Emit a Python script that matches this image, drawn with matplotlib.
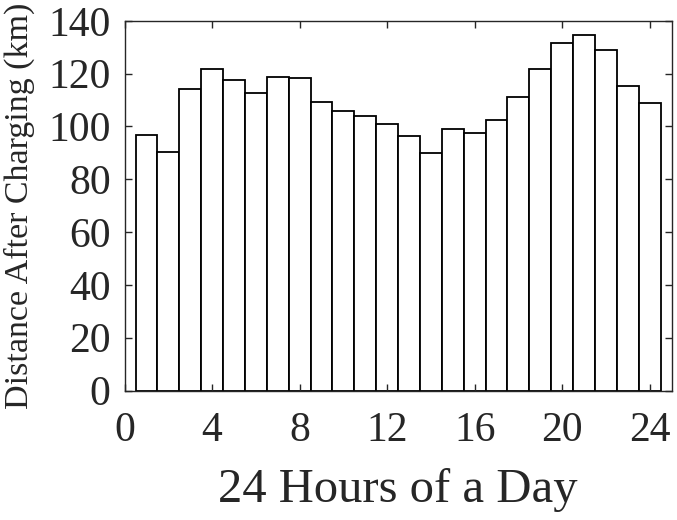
import numpy as np
import matplotlib
matplotlib.use('Agg')
import matplotlib.pyplot as plt

# hourly values
hours = np.arange(1, 25)
distance = [96.6, 90.4, 114.1, 121.8, 117.4, 112.5, 118.9, 118.2,
            109.2, 105.9, 104.0, 101.0, 96.3, 90.1, 99.2, 97.7,
            102.3, 111.3, 121.8, 131.7, 134.8, 129.1, 115.2, 108.9]
xticks = [0, 4, 8, 12, 16, 20, 24]
yticks = [0, 20, 40, 60, 80, 100, 120, 140]

plt.rcParams['font.family'] = ['Liberation Serif', 'DejaVu Serif']

fig = plt.figure(figsize=(6.77, 5.2), dpi=100)
ax = fig.add_axes([0.184, 0.249, 0.808, 0.711])

ax.bar(hours, distance, width=1.0, facecolor='white', edgecolor='black', linewidth=1.3)

ax.set_xlim(0, 25)
ax.set_ylim(0, 140)
ax.set_xticks(xticks)
ax.set_yticks(yticks)
ax.tick_params(direction='in', top=True, right=True, length=5, width=1,
               labelsize=30, color='#262626', labelcolor='#262626')
ax.tick_params(axis='x', pad=15)
ax.tick_params(axis='y', pad=10)
for s in ax.spines.values():
    s.set_color('#262626')
    s.set_linewidth(1)

ax.set_xlabel('24 Hours of a Day', fontsize=35, color='#262626')
ax.xaxis.set_label_coords(0.5, -0.21)
ax.set_ylabel('Distance After Charging (km)', fontsize=24.5, color='#262626')
ax.yaxis.set_label_coords(-0.163, 0.5)

fig.savefig('out.png', dpi=100)
